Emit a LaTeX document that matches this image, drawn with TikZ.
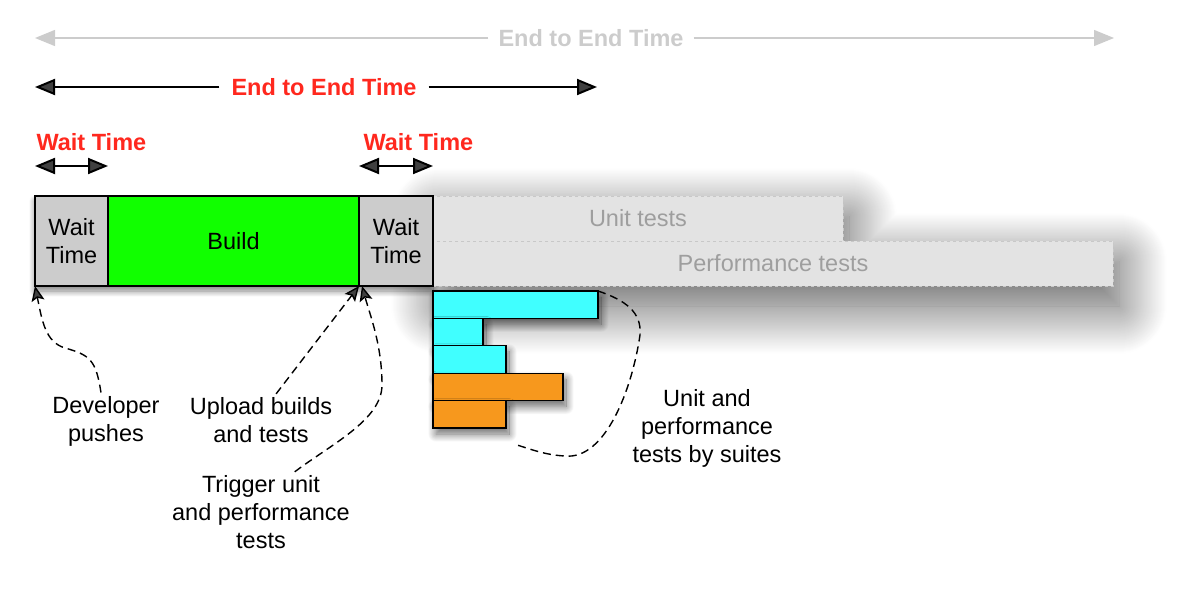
\documentclass[tikz,border=0pt]{standalone}
\usepackage{fontspec}
\setmainfont{Liberation Sans}
\usetikzlibrary{arrows.meta,shadows.blur,backgrounds,positioning}

\definecolor{waitgray}{RGB}{204,204,204}
\definecolor{buildgreen}{RGB}{17,255,0}
\definecolor{testgray}{RGB}{227,227,227}
\definecolor{testline}{RGB}{200,200,200}
\definecolor{testtext}{RGB}{158,158,158}
\definecolor{spangray}{RGB}{204,204,204}
\definecolor{timered}{RGB}{255,40,30}
\definecolor{suitecyan}{RGB}{64,255,255}
\definecolor{suiteorange}{RGB}{247,152,29}

\begin{document}
\begin{tikzpicture}[x=1pt,y=-1pt,
	>={Triangle[length=20pt,width=16pt]},
	every node/.style={font=\fontsize{23.5}{28}\selectfont, align=center},
	stage/.style={draw=black, line width=1.5pt, minimum height=90, inner sep=0pt, outer sep=0pt, anchor=north west},
	testbox/.style={draw=testline, dashed, line width=0.8pt, fill=testgray, text=testtext, minimum height=45, inner sep=0pt, outer sep=0pt, anchor=north west},
	suite/.style={draw=black, line width=1.3pt, minimum height=27.4, inner sep=0pt, outer sep=0pt, anchor=north west,
		blur shadow={shadow xshift=3pt, shadow yshift=-6pt, shadow blur radius=8pt, shadow blur steps=20, shadow opacity=60}},
	span/.style={line width=2pt},
	timelabel/.style={font=\fontsize{23.5}{28}\selectfont\bfseries, text=timered},
	callout/.style={dash pattern=on 8pt off 5pt, line width=1.4pt},
	tip/.style={-{Stealth[length=15pt,width=13pt,inset=3pt]}},
	]
	\useasboundingbox (0,0) rectangle (1184,616);

	% tests running after the build
	\node[testbox, minimum width=410] (ut) at (433,196) {Unit tests};
	\node[testbox, minimum width=680] (pt) at (ut.south west) {Performance tests};

	% build pipeline
	\node[stage, fill=waitgray, minimum width=73] (w1) at (35,196) {Wait\\Time};
	\node[stage, fill=buildgreen, minimum width=251] (b) at (w1.north east) {Build};
	\node[stage, fill=waitgray, minimum width=74] (w2) at (b.north east) {Wait\\Time};

	% suites
	\node[suite, fill=suitecyan, minimum width=165] (u1) at (433,291) {};
	\node[suite, fill=suitecyan, minimum width=50] (u2) at (u1.south west) {};
	\node[suite, fill=suitecyan, minimum width=73] (u3) at (u2.south west) {};
	\node[suite, fill=suiteorange, minimum width=130] (p1) at (u3.south west) {};
	\node[suite, fill=suiteorange, minimum width=73] (p2) at (p1.south west) {};

	\begin{pgfonlayer}{background}
		\path[blur shadow={shadow xshift=6pt, shadow yshift=-20pt, shadow blur radius=48pt, shadow blur steps=50, shadow opacity=65}]
		(ut.north west) -- (ut.north east) -- (ut.south east) -- (pt.north east)
		-- (pt.south east) -- (pt.south west) -- cycle;
		\path[blur shadow={shadow xshift=0pt, shadow yshift=-5pt, shadow blur radius=6pt, shadow blur steps=15, shadow opacity=50}]
		(w1.north west) rectangle (w2.south east);
	\end{pgfonlayer}

	% time spans
	\node[timelabel, text=spangray, inner xsep=10pt] (all) at (591,38) {End to End Time};
	\coordinate (allL) at (35,38);
	\coordinate (allR) at (1114,38);
	\draw[span, ->, spangray, line width=1.3pt] (all) -- (allL);
	\draw[span, ->, spangray, line width=1.3pt] (all) -- (allR);

	\node[timelabel, inner xsep=12pt] (e2e) at (324,87) {End to End Time};
	\coordinate (e2eL) at (35,87);
	\coordinate (e2eR) at (597,87);
	\draw[span, ->] (e2e) -- (e2eL);
	\draw[span, ->] (e2e) -- (e2eR);

	\node[timelabel, anchor=base west] (wl1) at (33,150) {Wait Time};
	\node[timelabel, anchor=base west] (wl2) at (360,150) {Wait Time};
	\draw[span, <->] ([yshift=30pt]w1.north west) -- ([yshift=30pt]w1.north east);
	\draw[span, <->] ([yshift=30pt]w2.north west) -- ([yshift=30pt]w2.north east);

	% callouts
	\node (dev) at (106,421) {Developer\\pushes};
	\node (up) at (261,420) {Upload builds\\and tests};
	\node (trig) at (261,512) {Trigger unit\\and performance\\tests};
	\node (suites) at (707,428) {Unit and\\performance\\tests by suites};
	\coordinate (suitesEnd) at (514,444);

	\draw[callout, tip] (dev.100) .. controls (96,360) and (90,355) .. (65,348)
		.. controls (45,342) and (42,320) .. (w1.south west);
	\draw[callout, tip] (up.60) -- (b.south east);
	\draw[callout, tip] (trig.50) .. controls (330,445) and (382,420) .. (382,385)
		.. controls (382,345) and (370,315) .. ([xshift=3pt]w2.south west);
	\draw[callout] (u1.north east) .. controls (625,300) and (642,312) .. (640,335)
		.. controls (632,390) and (605,460) .. (565,456)
		.. controls (545,455) and (530,449) .. (suitesEnd);
\end{tikzpicture}
\end{document}
